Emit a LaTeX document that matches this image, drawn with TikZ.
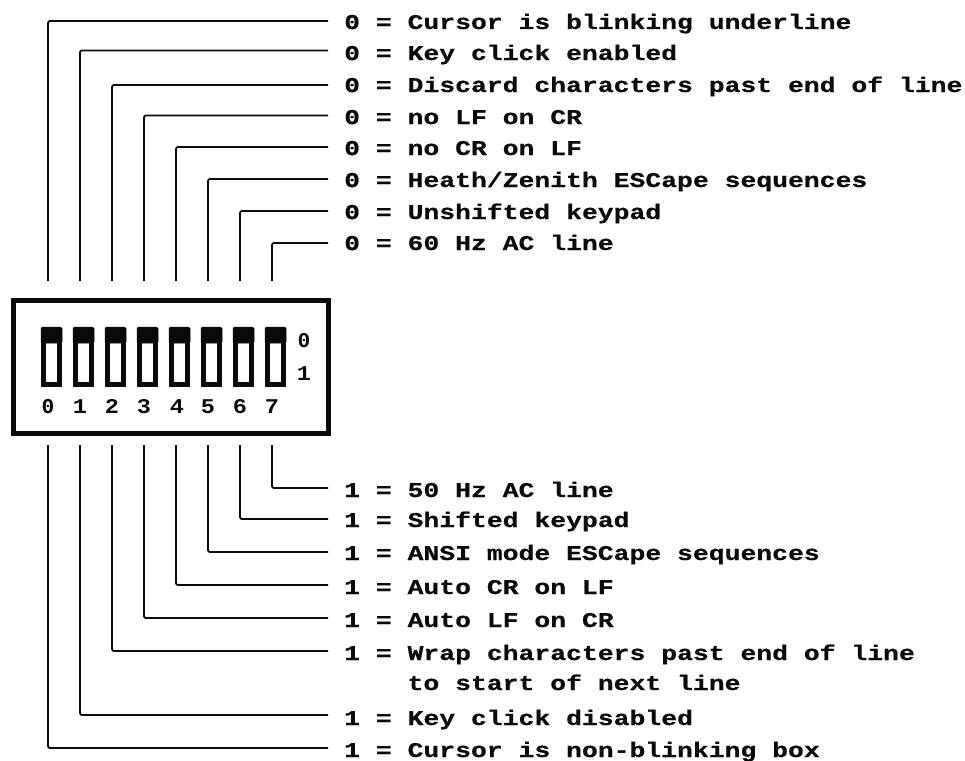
\documentclass[tikz,border=0pt]{standalone}
\usepackage{fontspec}
\newfontfamily\dipfont[FakeStretch=1.258,FakeBold=0.6]{Liberation Mono Bold}
\newfontfamily\zerofont[FakeStretch=1.385,FakeBold=0.6]{DejaVu Sans Mono Bold}
\newfontfamily\digitfont[FakeStretch=1.12]{Liberation Mono}
\newfontfamily\digitzero[FakeStretch=1.12]{DejaVu Sans Mono}
\newcommand{\zr}{{\zerofont\fontsize{19}{22}\selectfont 0}}
\newcommand{\dzr}{{\digitzero\bfseries\fontsize{19}{22}\selectfont 0}}
\definecolor{ink}{gray}{0.04}
\tikzset{
  lab/.style={anchor=base west,inner sep=0pt,font=\dipfont\fontsize{21}{24}\selectfont,text=ink},
  digit/.style={anchor=base,inner sep=0pt,font=\digitfont\bfseries\fontsize{21}{24}\selectfont,text=ink},
  wire/.style={draw=ink,line width=1.8pt,rounded corners=2pt},
  frame/.style={draw=ink,line width=5pt},
  swbody/.style={draw=ink,line width=5pt,fill=white,minimum width=16pt,minimum height=53pt,inner sep=0pt},
  swcap/.style={fill=ink,draw=ink,line width=.5pt,rounded corners=1.5pt,minimum width=21pt,minimum height=16pt,inner sep=0pt}
}
\begin{document}
\begin{tikzpicture}[x=1pt,y=-1pt]
\useasboundingbox (0,0) rectangle (965,760);
\node[frame,minimum width=315.5pt,minimum height=133.5pt,inner sep=0pt,anchor=north west] (dip) at (10.5,297.5) {};
\foreach \i/\x in {0/51.5,1/83.5,2/115.5,3/147.5,4/179.5,5/211.5,6/243.5,7/275.5}{
  \node[swbody] (sw\i) at (\x,358) {};
  \node[swcap] (cap\i) at (\x,335) {};
}
\node[digit] (d0) at (48,413) {\dzr};
\foreach \i/\x in {1/80,2/112,3/144,4/177,5/208,6/240,7/272}{
  \node[digit] (d\i) at (\x,413) {\i};
}
\node[digit] (zero) at (304,347) {\dzr};
\node[digit] (one) at (304,380) {1};
\node[lab] (u0) at (344,29) {\zr{} = Cursor is blinking underline};
\node[lab] (u1) at (344,60) {\zr{} = Key click enabled};
\node[lab] (u2) at (344,92) {\zr{} = Discard characters past end of line};
\node[lab] (u3) at (344,124) {\zr{} = no LF on CR};
\node[lab] (u4) at (344,155) {\zr{} = no CR on LF};
\node[lab] (u5) at (344,187) {\zr{} = Heath/Zenith ESCape sequences};
\node[lab] (u6) at (344,219) {\zr{} = Unshifted keypad};
\node[lab] (u7) at (344,250) {\zr{} = 60 Hz AC line};
\node[lab] (v7) at (344,497) {1 = 50 Hz AC line};
\node[lab] (v6) at (344,527) {1 = Shifted keypad};
\node[lab] (v5) at (344,560) {1 = ANSI mode ESCape sequences};
\node[lab] (v4) at (344,594) {1 = Auto CR on LF};
\node[lab] (v3) at (344,627) {1 = Auto LF on CR};
\node[lab] (v2) at (344,660) {1 = Wrap characters past end of line};
\node[lab] (v2b) at (407.4,690) {to start of next line};
\node[lab] (v1) at (344,725) {1 = Key click disabled};
\node[lab] (v0) at (344,757) {1 = Cursor is non-blinking box};
\foreach \i/\x/\a/\b in {0/48/8/9,1/80/9.5/10,2/112/7/9,3/144/8.5/9,4/176/8/9,5/208/8/8,6/240/8/8,7/272/7/9}{
  \coordinate (ta\i) at (\x,281);
  \coordinate (tb\i) at (\x,445);
  \draw[wire] (ta\i) |- ([shift={(-16pt,\a pt)}]u\i.base west);
  \draw[wire] (tb\i) |- ([shift={(-16pt,\b pt)}]v\i.base west);
}
\end{tikzpicture}
\end{document}
